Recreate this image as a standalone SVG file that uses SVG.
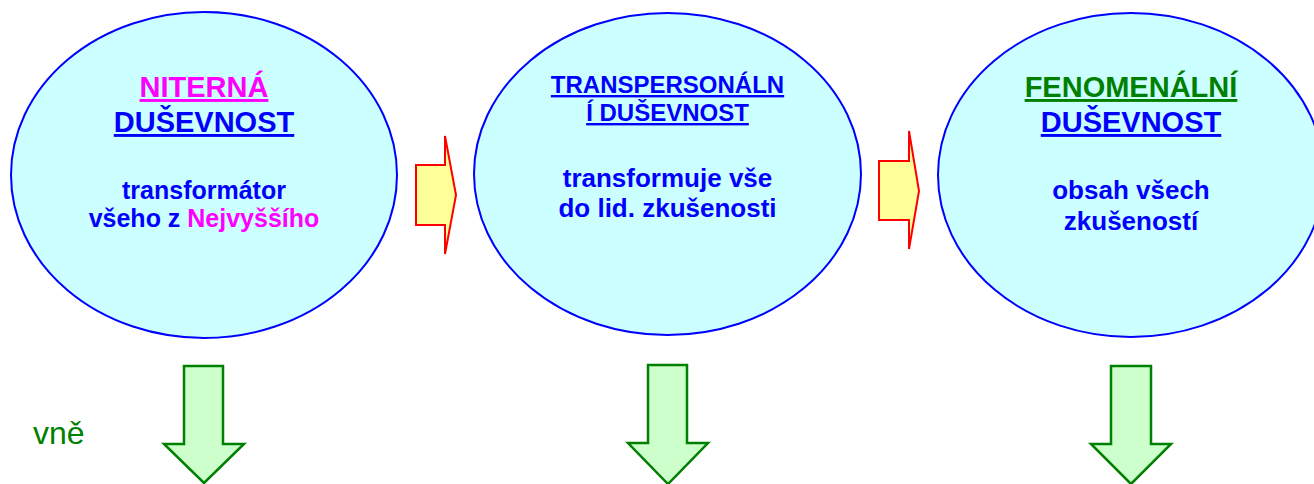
<svg xmlns="http://www.w3.org/2000/svg" width="1314" height="484" viewBox="0 0 1314 484">
<style>
.oval{fill:#CCFFFF;stroke:#0000FF;stroke-width:2}
.t{font-family:"Liberation Sans",Arial,sans-serif;font-weight:bold;text-anchor:middle;fill:#0000FF}
.u{text-decoration:underline}
.mag{fill:#FF00FF}
.grn{fill:#008000}
.rarr{fill:#FFFF99;stroke:#FF0000;stroke-width:2}
.garr{fill:#CCFFCC;stroke:#008000;stroke-width:2.5}
</style>
<rect width="1314" height="484" fill="#FFFFFF"/>
<g id="node-niterna">
<ellipse class="oval" cx="204" cy="175" rx="193" ry="163"/>
<text class="t u mag" x="204" y="97" font-size="29">NITERNÁ</text>
<text class="t u" x="204" y="132" font-size="29">DUŠEVNOST</text>
<text class="t" x="204" y="199" font-size="25">transformátor</text>
<text class="t" x="204" y="227" font-size="25">všeho z <tspan class="mag">Nejvyššího</tspan></text>
</g>
<g id="node-transpersonalni">
<ellipse class="oval" cx="667.5" cy="174" rx="193.5" ry="161"/>
<text class="t u" x="667.5" y="93" font-size="24">TRANSPERSONÁLN</text>
<text class="t u" x="667.5" y="121" font-size="24">Í DUŠEVNOST</text>
<text class="t" x="667.5" y="187" font-size="26">transformuje vše</text>
<text class="t" x="667.5" y="217" font-size="26">do lid. zkušenosti</text>
</g>
<g id="node-fenomenalni">
<ellipse class="oval" cx="1131" cy="175" rx="193" ry="162"/>
<text class="t u grn" x="1131" y="97" font-size="29">FENOMENÁLNÍ</text>
<text class="t u" x="1131" y="132" font-size="29">DUŠEVNOST</text>
<text class="t" x="1131" y="199" font-size="26">obsah všech</text>
<text class="t" x="1131" y="230" font-size="26">zkušeností</text>
</g>
<g id="label-vne">
<text x="33" y="444" font-family="'Liberation Sans',Arial,sans-serif" font-size="32" fill="#008000">vně</text>
</g>
<g id="connectors">
<polygon class="rarr" points="416,165 445,165 445,136 456,195 445,254 445,225 416,225"/>
<polygon class="rarr" points="879,161 909,161 909,131 919,191 909,249 909,220 879,220"/>
<polygon class="garr" points="184,366 223,366 223,444 244,444 204,483 164,444 184,444"/>
<polygon class="garr" points="648,365 687,365 687,443 708,443 668,484 628,443 648,443"/>
<polygon class="garr" points="1111,366 1151,366 1151,444 1171,444 1131,484 1091,444 1111,444"/>
</g>
</svg>
